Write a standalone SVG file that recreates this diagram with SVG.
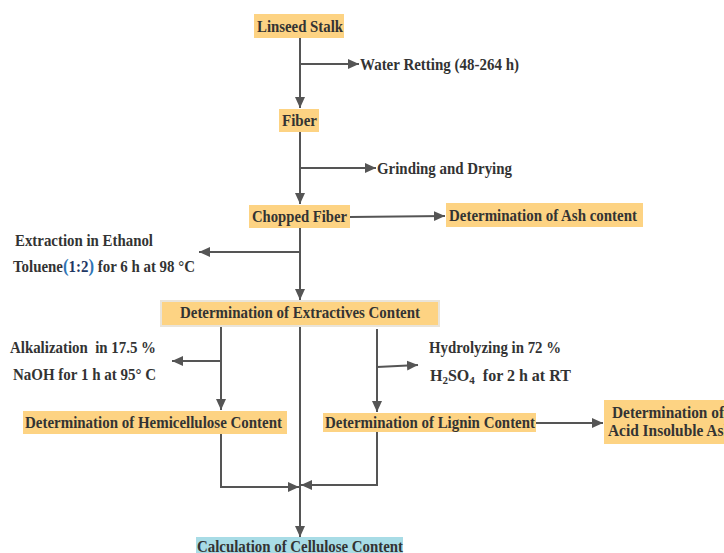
<svg xmlns="http://www.w3.org/2000/svg" width="724" height="553" viewBox="0 0 724 553">
<defs>
<marker id="ah" markerUnits="userSpaceOnUse" markerWidth="12" markerHeight="12" refX="11" refY="5" orient="auto" viewBox="0 0 12 10">
<path d="M0,0 L11,5 L0,10 z" fill="#555"/>
</marker>
<style>
.box{fill:#FDD383;}
.cyan{fill:#A8DCE6;}
.t{font-family:"Liberation Serif","DejaVu Serif",serif;font-weight:bold;font-size:16px;fill:#333;}
.c{stroke:#555;stroke-width:2;fill:none;}
.a{marker-end:url(#ah);}
</style>
</defs>
<rect width="724" height="553" fill="#fff"/>
<g id="connectors">
<path class="c a" d="M300,37 V108"/>
<path class="c a" d="M300,64 H359"/>
<path class="c a" d="M300,132 V204"/>
<path class="c a" d="M300,168 H376"/>
<path class="c a" d="M350,217 L445,216"/>
<path class="c a" d="M300,228 V300"/>
<path class="c a" d="M300,252 H199"/>
<path class="c a" d="M221,327 V410"/>
<path class="c a" d="M221,361 H172"/>
<path class="c a" d="M300,327 V537"/>
<path class="c a" d="M377,329 V412"/>
<path class="c a" d="M377,367 L418,365"/>
<path class="c a" d="M536,423 H603"/>
<path class="c a" d="M221,434 V487 H299"/>
<path class="c a" d="M377,432 V485 H301"/>
</g>
<g id="linseed">
<rect class="box" x="254" y="14" width="90" height="24"/>
<text class="t" x="257" y="32" textLength="86" lengthAdjust="spacingAndGlyphs">Linseed Stalk</text>
</g>
<g id="water-retting">
<text class="t" x="360" y="70" textLength="159" lengthAdjust="spacingAndGlyphs">Water Retting (48-264 h)</text>
</g>
<g id="fiber">
<rect class="box" x="279" y="109" width="40" height="23"/>
<text class="t" x="282" y="126" textLength="35" lengthAdjust="spacingAndGlyphs">Fiber</text>
</g>
<g id="grinding">
<text class="t" x="377" y="174" textLength="135" lengthAdjust="spacingAndGlyphs">Grinding and Drying</text>
</g>
<g id="chopped">
<rect class="box" x="249" y="205" width="101" height="23"/>
<text class="t" x="252" y="222" textLength="95" lengthAdjust="spacingAndGlyphs">Chopped Fiber</text>
</g>
<g id="ash">
<rect class="box" x="446" y="203" width="197" height="24"/>
<text class="t" x="449" y="221" textLength="188" lengthAdjust="spacingAndGlyphs">Determination of Ash content</text>
</g>
<g id="extraction">
<text class="t" x="15" y="246" textLength="138" lengthAdjust="spacingAndGlyphs">Extraction in Ethanol</text>
<text class="t" x="13" y="272" textLength="182" lengthAdjust="spacingAndGlyphs" xml:space="preserve">Toluene<tspan style="font-size:18px;fill:#2E75B6">(</tspan><tspan style="fill:#1F3864">1:2</tspan><tspan style="font-size:18px;fill:#2E75B6">)</tspan> for 6 h at 98 °C</text>
</g>
<g id="extractives">
<rect class="box" x="161" y="301" width="278" height="25" style="stroke:#E9E4DA;stroke-width:2"/>
<text class="t" x="180" y="318" textLength="240" lengthAdjust="spacingAndGlyphs">Determination of Extractives Content</text>
</g>
<g id="alkalization">
<text class="t" x="10" y="353" textLength="146" lengthAdjust="spacingAndGlyphs" xml:space="preserve">Alkalization  in 17.5 %</text>
<text class="t" x="13" y="380" textLength="143" lengthAdjust="spacingAndGlyphs">NaOH for 1 h at 95° C</text>
</g>
<g id="hydrolyzing">
<text class="t" x="429" y="353" textLength="132" lengthAdjust="spacingAndGlyphs">Hydrolyzing in 72 %</text>
<text class="t" x="430" y="381">H<tspan font-size="11" dy="3">2</tspan><tspan dy="-3">SO</tspan><tspan font-size="11" dy="3">4</tspan><tspan dy="-3" xml:space="preserve">  for 2 h at RT</tspan></text>
</g>
<g id="hemicellulose">
<rect class="box" x="23" y="411" width="264" height="23"/>
<text class="t" x="25" y="428" textLength="257" lengthAdjust="spacingAndGlyphs">Determination of Hemicellulose Content</text>
</g>
<g id="lignin">
<rect class="box" x="323" y="413" width="213" height="19"/>
<text class="t" x="325" y="428" textLength="210" lengthAdjust="spacingAndGlyphs">Determination of Lignin Content</text>
</g>
<g id="acid-ash">
<rect class="box" x="604" y="400" width="130" height="44"/>
<text class="t" x="612" y="418" textLength="112" lengthAdjust="spacingAndGlyphs">Determination of</text>
<text class="t" x="608" y="436" textLength="124" lengthAdjust="spacingAndGlyphs">Acid Insoluble Ash</text>
</g>
<g id="cellulose">
<rect class="cyan" x="196" y="537" width="207" height="20"/>
<text class="t" x="197" y="552" textLength="206" lengthAdjust="spacingAndGlyphs">Calculation of Cellulose Content</text>
</g>
</svg>
